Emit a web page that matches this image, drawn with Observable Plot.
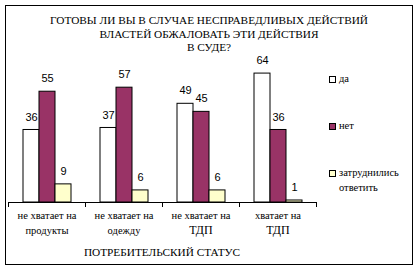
<!DOCTYPE html>
<html>
<head>
<meta charset="utf-8">
<script src="https://cdn.jsdelivr.net/npm/d3@7"></script>
<script src="https://cdn.jsdelivr.net/npm/@observablehq/plot@0.6"></script>
<style>
  body { margin: 0; background: #fff; }
  #wrap { position: relative; width: 418px; height: 270px; overflow: hidden; font-family: "Liberation Serif", serif; color: #000; }
  #wrap svg { position: absolute; left: 0; top: 0; }
  .box { position: absolute; left: 5px; top: 5px; width: 406px; height: 258px; border: 1px solid #000; pointer-events: none; }
  .title { position: absolute; left: 0; width: 418px; text-align: center; font-size: 11.3px; line-height: 13.5px; top: 14px; }
  .axtitle { position: absolute; left: 62px; width: 200px; text-align: center; font-size: 11.3px; top: 246px; white-space: nowrap; }
  .leg { position: absolute; left: 329px; font-size: 10.5px; }
  .sw { position: absolute; width: 5px; height: 5px; border: 1px solid #000; }
  .lt { position: absolute; left: 10px; white-space: nowrap; line-height: 15px; }
</style>
</head>
<body>
<div id="wrap"></div>
<script>
const categories = ["не хватает на продукты", "не хватает на одежду", "не хватает на ТДП", "хватает на ТДП"];
const catLine1 = ["не хватает на", "не хватает на", "не хватает на", "хватает на"];
const catLine2 = ["продукты", "одежду", "ТДП", "ТДП"];
const series = ["да", "нет", "затруднились ответить"];
const legendLines = [["да"], ["нет"], ["затруднились", "ответить"]];
const valuesYes = [36, 37, 49, 64];
const valuesNo = [55, 57, 45, 36];
const valuesUnsure = [9, 6, 6, 1];
const colors = ["#FFFFFF", "#993366", "#FFFFCC"];
const titleLines = ["ГОТОВЫ ЛИ ВЫ В СЛУЧАЕ НЕСПРАВЕДЛИВЫХ ДЕЙСТВИЙ", "ВЛАСТЕЙ ОБЖАЛОВАТЬ ЭТИ ДЕЙСТВИЯ", "В СУДЕ?"];
const axisTitle = "ПОТРЕБИТЕЛЬСКИЙ СТАТУС";

const seriesValues = [valuesYes, valuesNo, valuesUnsure];
const data = [];
categories.forEach((c, i) => series.forEach((s, j) => data.push({cat: c, series: s, value: seriesValues[j][i]})));
const catInfo = categories.map((c, i) => ({cat: c, l1: catLine1[i], l2: catLine2[i]}));

const chart = Plot.plot({
  width: 418,
  height: 270,
  marginLeft: 8,
  marginRight: 102,
  marginTop: 61,
  marginBottom: 68,
  style: {fontFamily: "'Liberation Serif', serif", fontSize: "11px", background: "transparent", overflow: "visible"},
  fx: {domain: categories, padding: 0, axis: null},
  x: {domain: series, paddingInner: 0, paddingOuter: 0.765, axis: null},
  y: {domain: [0, 70], axis: null},
  color: {domain: series, range: colors},
  marks: [
    Plot.barY(data, {fx: "cat", x: "series", y: "value", fill: "series", stroke: "#000", strokeWidth: 1}),
    Plot.ruleY([0], {stroke: "#000", strokeWidth: 1}),
    Plot.frame({anchor: "left", insetTop: 141, insetBottom: -4, stroke: "#000"}),
    Plot.frame({anchor: "right", insetTop: 141, insetBottom: -4, stroke: "#000"}),
    Plot.text(data, {fx: "cat", x: "series", y: "value", text: d => String(d.value), dy: -13, fontFamily: "Liberation Sans", fontSize: 11}),
    Plot.text(catInfo, {fx: "cat", text: "l1", frameAnchor: "bottom", dy: 16, fontSize: 10.5}),
    Plot.text(catInfo, {fx: "cat", text: "l2", frameAnchor: "bottom", dy: 31, fontSize: d => d.l2 === "ТДП" ? 12 : 10.5})
  ]
});

const wrap = document.getElementById("wrap");
wrap.appendChild(chart);

const box = document.createElement("div"); box.className = "box"; wrap.appendChild(box);
const t = document.createElement("div"); t.className = "title";
t.innerHTML = titleLines.join("<br>"); wrap.appendChild(t);
const at = document.createElement("div"); at.className = "axtitle"; at.textContent = axisTitle; wrap.appendChild(at);

const legTops = [76, 123, 170];
series.forEach((s, i) => {
  const g = document.createElement("div"); g.className = "leg"; g.style.top = legTops[i] + "px";
  const sw = document.createElement("div"); sw.className = "sw"; sw.style.background = colors[i]; sw.style.left = "0px"; sw.style.top = "0px";
  g.appendChild(sw);
  const lt = document.createElement("div"); lt.className = "lt"; lt.style.top = "-5px";
  lt.innerHTML = legendLines[i].join("<br>");
  g.appendChild(lt);
  wrap.appendChild(g);
});
</script>
</body>
</html>
